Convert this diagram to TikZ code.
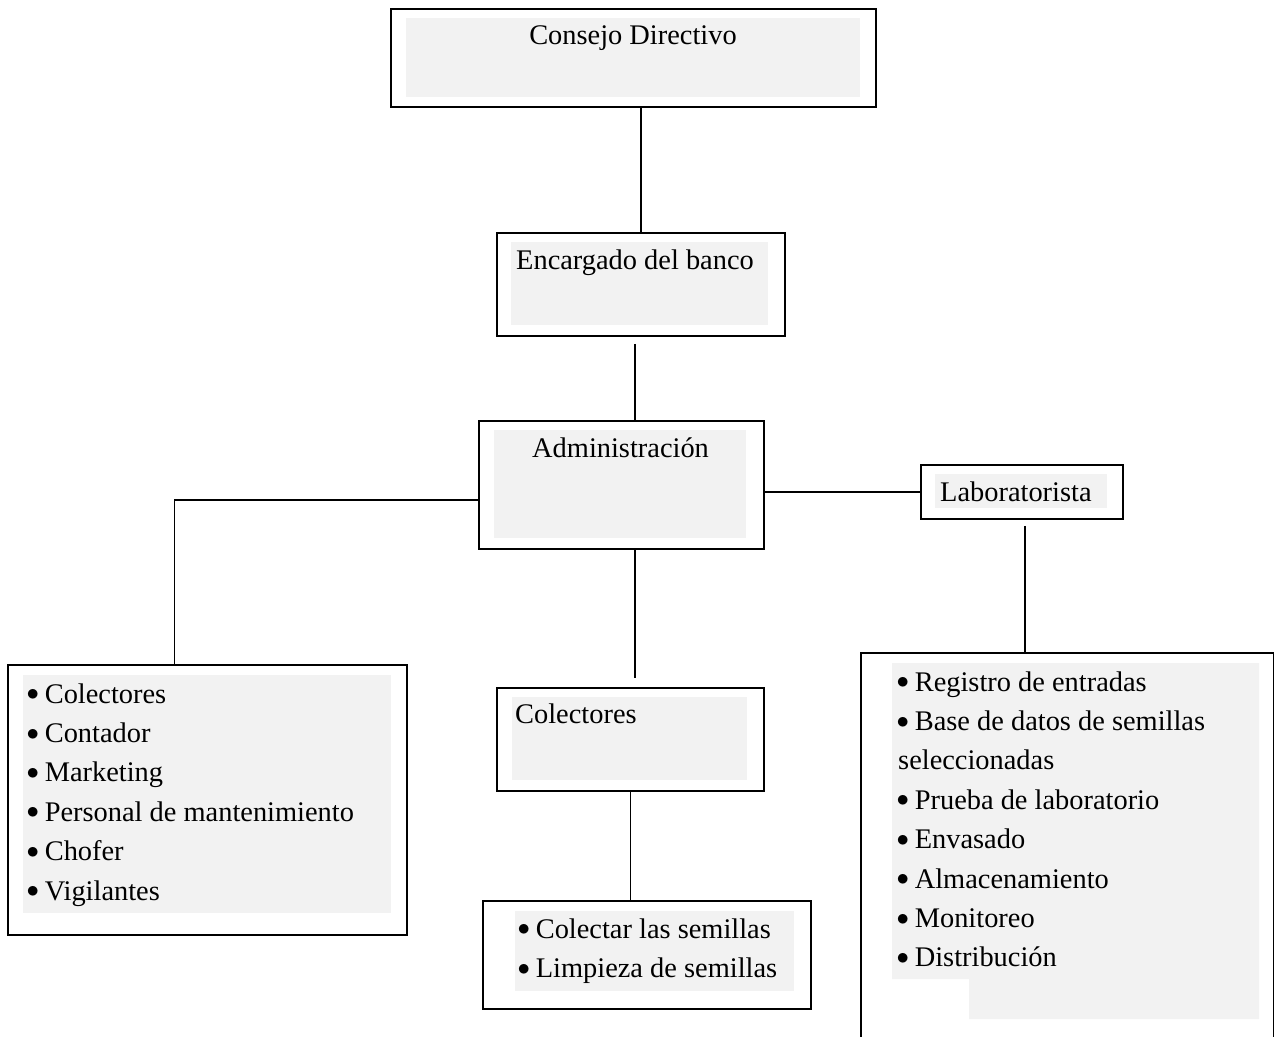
\documentclass[tikz,border=0pt]{standalone}
\usepackage{fontspec}
\setmainfont{Liberation Serif}
\usepackage{xcolor}
\usepackage{tikz}
\usetikzlibrary{positioning,calc}
\definecolor{OGray}{HTML}{F2F2F2}
\definecolor{OInk}{HTML}{000000}
\newcommand{\obul}{\raisebox{0.08em}{$\bullet$}\hspace{0.2em}}

\begin{document}
\begin{tikzpicture}[x=1pt,y=-1pt,
    orgbox/.style={draw=OInk, line width=1.8pt, rectangle, inner sep=0pt, anchor=north west},
    orgline/.style={draw=OInk, line width=1.8pt},
    orgtext/.style={font=\fontsize{28.4}{34}\selectfont, text=OInk, inner sep=0pt, anchor=base west}]
  \useasboundingbox (0,0) rectangle (1274,1036);
  \clip (0,0) rectangle (1274,1036);

  % Consejo Directivo
  \fill[OGray] (406,18) rectangle (860,97);
  \node[orgbox, minimum width=485pt, minimum height=98pt] (consejo) at (390,8) {};
  \node[orgtext, anchor=base] (consejo-t) at (633,44) {Consejo Directivo};

  % Encargado del banco
  \fill[OGray] (511,242) rectangle (768,325);
  \node[orgbox, minimum width=288pt, minimum height=103pt] (encargado) at (496,232) {};
  \node[orgtext] (encargado-t) at (516,269) {Encargado del banco};

  % Administracion
  \fill[OGray] (494,430) rectangle (746,538);
  \node[orgbox, minimum width=285pt, minimum height=128pt] (admin) at (478,420) {};
  \node[orgtext] (admin-t) at (532,457) {Administración};

  % Laboratorista
  \fill[OGray] (935,474) rectangle (1107,508);
  \node[orgbox, minimum width=202pt, minimum height=54pt] (lab) at (920,464) {};
  \node[orgtext] (lab-t) at (940,501) {Laboratorista};

  % Colectores
  \fill[OGray] (512,697) rectangle (747,780);
  \node[orgbox, minimum width=267pt, minimum height=103pt] (colect) at (496,687) {};
  \node[orgtext] (colect-t) at (515,723) {Colectores};

  % staff list (left)
  \fill[OGray] (23,675) rectangle (391,913);
  \node[orgbox, minimum width=399pt, minimum height=270pt] (staff) at (7,664) {};
  \foreach \txt [count=\i from 0] in {Colectores, Contador, Marketing,
      Personal de mantenimiento, Chofer, Vigilantes}
    \node[orgtext] (staff-\i) at (26.5,703+39.4*\i) {\obul\txt};

  % tareas de colectores (bottom)
  \fill[OGray] (515,911) rectangle (794,991);
  \node[orgbox, minimum width=328pt, minimum height=108pt] (tareas) at (482,900) {};
  \node[orgtext] (tareas-0) at (517.5,938) {\obul Colectar las semillas};
  \node[orgtext] (tareas-1) at (517.5,977.4) {\obul Limpieza de semillas};

  % laboratorio list (right, runs off the page)
  \fill[OGray] (892,663) -- (1259,663) -- (1259,1019) -- (969,1019) -- (969,979) -- (892,979) -- cycle;
  \node[orgbox, minimum width=413pt, minimum height=400pt] (labtask) at (860,652) {};
  \foreach \txt [count=\i from 0] in {\obul Registro de entradas, \obul Base de datos de semillas,
      \hspace{1.5pt}seleccionadas, \obul Prueba de laboratorio, \obul Envasado, \obul Almacenamiento,
      \obul Monitoreo, \obul Distribución}
    \node[orgtext] (labtask-\i) at (896.5,691+39.4*\i) {\txt};

  % connectors
  \draw[orgline] (encargado.north) -- (encargado.north |- consejo.south);
  \draw[orgline] ([xshift=-6pt,yshift=-7pt]encargado.south) -- ([xshift=-6pt]encargado.south |- admin.north);
  \draw[orgline] ([yshift=-15pt]admin.west) -| ([xshift=-33pt]staff.north);
  \draw[orgline] (lab.west) -- (lab.west -| admin.east);
  \draw[orgline] ([xshift=3pt,yshift=-6pt]lab.south) -- ([xshift=3pt]lab.south |- labtask.north);
  \draw[orgline] ([xshift=13.5pt]admin.south) -- ([xshift=13.5pt,yshift=9pt]admin.south |- colect.north);
  \draw[orgline] (colect.south) -- (colect.south |- tareas.north);
\end{tikzpicture}
\end{document}
